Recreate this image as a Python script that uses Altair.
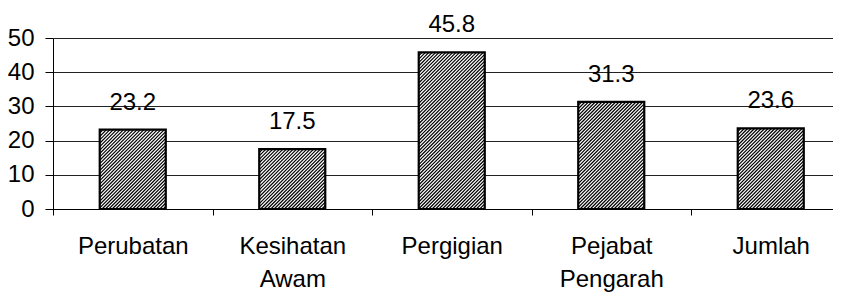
import json
import altair as alt
import pandas as pd

# ---- data ----
categories = ["Perubatan", "Kesihatan Awam", "Pergigian", "Pejabat Pengarah", "Jumlah"]
label_lines = [["Perubatan"], ["Kesihatan", "Awam"], ["Pergigian"], ["Pejabat", "Pengarah"], ["Jumlah"]]
values = [23.2, 17.5, 45.8, 31.3, 23.6]
y_ticks = [0, 10, 20, 30, 40, 50]

# ---- layout constants ----
W, H = 780, 171            # plot area in px
STEP = 159.5               # px per category
HALF = 0.207               # half bar width in category units
YMAX = 50
X_DOMAIN = [0, W / STEP]
FONT = "Liberation Sans"
FS = 24

df = pd.DataFrame({
    "cat": categories,
    "xc": [i + 0.5 for i in range(len(categories))],
    "value": values,
})
df["x0"] = df["xc"] - HALF
df["x1"] = df["xc"] + HALF
df["label"] = [f"{v:.1f}" for v in values]

# ---- hatch lines ("/" direction), derived from bar geometry ----
PX = STEP
PY = H / YMAX
PERIOD = 3.4
rows = []
for _, r in df.iterrows():
    xl, xr, hb = r.x0 * PX, r.x1 * PX, r.value * PY
    c = xl - hb
    while c < xr:
        y1 = max(0.0, xl - c)
        y2 = min(hb, xr - c)
        if y2 > y1:
            rows.append({"hx": (y1 + c) / PX, "hx2": (y2 + c) / PX,
                         "hy": y1 / PY, "hy2": y2 / PY})
        c += PERIOD
hatch = pd.DataFrame(rows)

xscale = alt.Scale(domain=X_DOMAIN, nice=False, zero=False)
yscale = alt.Scale(domain=[0, YMAX], nice=False)

lines_js = json.dumps(label_lines)
x_axis = alt.Axis(
    values=[i * 0.5 for i in range(2 * len(categories))],
    labelExpr=f"datum.value % 1 == 0 ? '' : {lines_js}[floor(datum.value)]",
    tickOpacity={"condition": {"test": "datum.value % 1 == 0", "value": 1}, "value": 0},
    grid=False, title=None,
    domainColor="black", tickColor="black", tickSize=6,
    labelFont=FONT, labelFontSize=FS, labelColor="black",
    labelPadding=19, labelLineHeight=33, labelBaseline="top",
    labelFlush=False, labelOverlap=False,
)
y_axis = alt.Axis(
    values=y_ticks, grid=True, gridColor="#222222", gridWidth=1,
    domainColor="black", tickColor="black", tickSize=8,
    labelFont=FONT, labelFontSize=FS, labelColor="black", labelPadding=11,
    labelOverlap=False, labelFlush=False,
    title=None,
)

base = alt.Chart(df)
fill = base.mark_rect(fill="white").encode(
    x=alt.X("x0:Q", scale=xscale, axis=x_axis), x2="x1:Q",
    y=alt.Y("value:Q", scale=yscale, axis=y_axis), y2=alt.datum(0),
)
hatch_layer = alt.Chart(hatch).mark_rule(color="black", strokeWidth=1.2).encode(
    x=alt.X("hx:Q", scale=xscale, axis=x_axis), x2="hx2:Q",
    y=alt.Y("hy:Q", scale=yscale, axis=y_axis), y2="hy2:Q",
)
outline = base.mark_rect(fill=None, stroke="black", strokeWidth=2.2).encode(
    x=alt.X("x0:Q", scale=xscale, axis=x_axis), x2="x1:Q",
    y=alt.Y("value:Q", scale=yscale, axis=y_axis), y2=alt.datum(0),
)
text = base.mark_text(font=FONT, fontSize=FS, color="black", dy=-20,
                      baseline="alphabetic", align="center").encode(
    x=alt.X("xc:Q", scale=xscale, axis=x_axis),
    y=alt.Y("value:Q", scale=yscale, axis=y_axis), text="label:N",
)

chart = alt.layer(fill, hatch_layer, outline, text).properties(
    width=W, height=H,
    autosize=alt.AutoSizeParams(type="none"),
    padding={"left": 45, "top": 30, "right": 0, "bottom": 84},
).configure_view(stroke=None).configure(background="white")

chart.save("out.html", embed_options={"renderer": "svg", "actions": False})
